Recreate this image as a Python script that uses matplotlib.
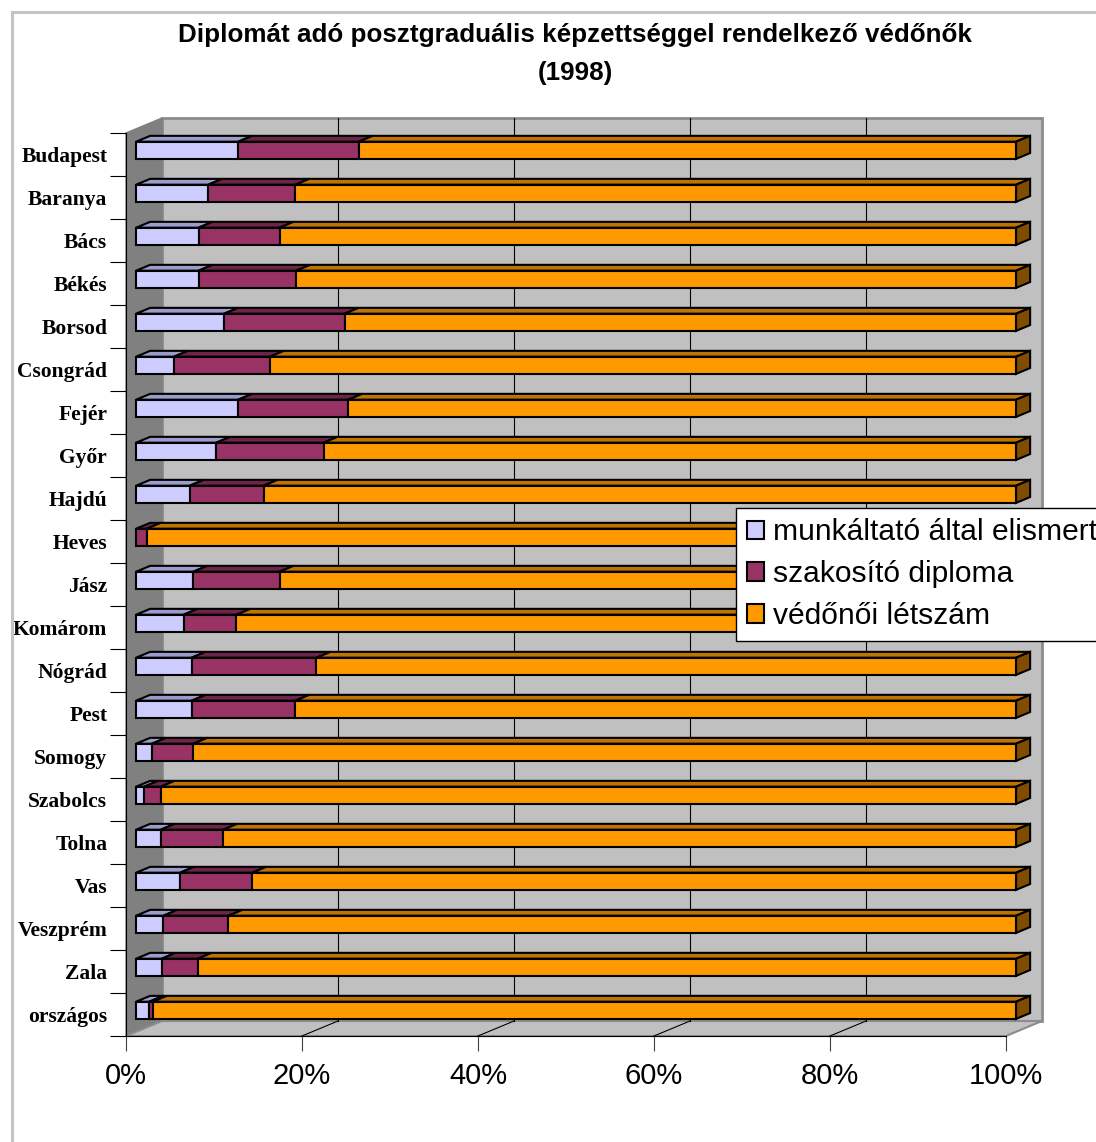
import matplotlib.pyplot as plt
from matplotlib.patches import Polygon, Rectangle, Patch
import numpy as np

# share of each group per county, percent
regions = ["Budapest", "Baranya", "Bács", "Békés", "Borsod", "Csongrád", "Fejér",
           "Győr", "Hajdú", "Heves", "Jász", "Komárom", "Nógrád", "Pest", "Somogy",
           "Szabolcs", "Tolna", "Vas", "Veszprém", "Zala", "országos"]
elismert = [11.6, 8.2, 7.1, 7.1, 10.0, 4.3, 11.6, 9.1, 6.1, 0.0, 6.5,
            5.4, 6.3, 6.3, 1.8, 0.9, 2.8, 5.0, 3.1, 2.9, 1.5]
szakosito = [13.7, 9.9, 9.2, 11.1, 13.7, 10.9, 12.5, 12.2, 8.4, 1.2, 9.8,
             6.0, 14.2, 11.8, 4.7, 1.9, 7.1, 8.2, 7.4, 4.1, 0.4]
letszam = [100 - a - b for a, b in zip(elismert, szakosito)]

series_names = ["munkáltató által elismert", "szakosító diploma", "védőnői létszám"]
xticks = [0, 20, 40, 60, 80, 100]
xtick_labels = ["0%", "20%", "40%", "60%", "80%", "100%"]

front_colors = ["#CCCCFF", "#993366", "#FF9900"]
top_colors = ["#9C9CCC", "#6E2449", "#BF7300"]
side_color = "#7F4C00"

# 3d box: full depth expressed in data units (x in percent, y in rows)
DX = 4.09
DY = 0.349
D0, D1 = 0.28, 0.67   # depth range of the bars
BAR_H = 0.4

SANS = ["Liberation Sans", "DejaVu Sans"]
SERIF = ["Liberation Serif", "DejaVu Serif"]


def proj(x, y, d):
    return (x + d * DX, y - d * DY)


def poly(ax, pts, fc, ec, lw, z):
    ax.add_patch(Polygon(pts, closed=True, facecolor=fc, edgecolor=ec,
                         linewidth=lw, clip_on=False, zorder=z, joinstyle='miter'))


W, H = 1096, 1142
fig = plt.figure(figsize=(W / 100, H / 100), dpi=100)
ax = fig.add_axes([126 / W, 106 / H, 880 / W, 903 / H])
n = len(regions)
ax.set_xlim(0, 100)
ax.set_ylim(n, 0)
ax.patch.set_visible(False)

# walls and floor
poly(ax, [proj(0, 0, 1), proj(100, 0, 1), proj(100, n, 1), proj(0, n, 1)],
     "#C0C0C0", "#8C8C8C", 2.0, 0)
poly(ax, [proj(0, 0, 0), proj(0, 0, 1), proj(0, n, 1), proj(0, n, 0)],
     "#808080", "#808080", 1.0, 0.5)
poly(ax, [proj(0, n, 0), proj(100, n, 0), proj(100, n, 1), proj(0, n, 1)],
     "#C0C0C0", "#8C8C8C", 1.5, 0.5)

# gridlines on the back wall and the floor
for x in xticks[1:-1]:
    bx, by0 = proj(x, 0, 1)
    _, by1 = proj(x, n, 1)
    ax.plot([bx, bx], [by0, by1], color="black", lw=0.8, clip_on=False, zorder=1)
    fx, fy = proj(x, n, 0)
    ax.plot([fx, bx], [fy, by1], color="black", lw=0.8, clip_on=False, zorder=1)

# stacked 3d bars
for k in range(n):
    vals = [elismert[k], szakosito[k], letszam[k]]
    y0 = k + 0.5 - BAR_H / 2
    y1 = k + 0.5 + BAR_H / 2
    left = 0.0
    for i, w in enumerate(vals):
        if w <= 0:
            continue
        a, b = left, left + w
        poly(ax, [proj(a, y0, D0), proj(b, y0, D0), proj(b, y0, D1), proj(a, y0, D1)],
             top_colors[i], "black", 1.5, 2)
        poly(ax, [proj(a, y0, D0), proj(b, y0, D0), proj(b, y1, D0), proj(a, y1, D0)],
             front_colors[i], "black", 1.5, 2)
        if i == len(vals) - 1:
            poly(ax, [proj(b, y0, D0), proj(b, y0, D1), proj(b, y1, D1), proj(b, y1, D0)],
                 side_color, "black", 1.5, 2)
        left = b

# axes, ticks and labels
for s in ["top", "right"]:
    ax.spines[s].set_visible(False)
for s in ["left", "bottom"]:
    ax.spines[s].set_color("black")
    ax.spines[s].set_linewidth(0.8)
    ax.spines[s].set_zorder(3)

ax.set_xticks(xticks, xtick_labels)
ax.tick_params(axis="x", length=10.8, width=0.8, color="#404040", pad=8, labelsize=21)
for t in ax.get_xticklabels():
    t.set_family(SANS)

ax.set_yticks(np.arange(n) + 0.5, regions)
ax.set_yticks(np.arange(n + 1), minor=True)
ax.tick_params(axis="y", which="major", length=0, pad=13.5, labelsize=15.5)
ax.tick_params(axis="y", which="minor", length=11.5, width=0.8, color="black")
for t in ax.get_yticklabels():
    t.set_family(SERIF)
    t.set_fontweight("bold")

# two-line title
fig.text(575 / W, 1 - 35 / H,
         "Diplomát adó posztgraduális képzettséggel rendelkező védőnők",
         ha="center", va="center", fontsize=18.7, fontweight="bold", family=SANS)
fig.text(575 / W, 1 - 73 / H, "(1998)",
         ha="center", va="center", fontsize=18.7, fontweight="bold", family=SANS)

handles = [Patch(facecolor=c, edgecolor="black", linewidth=1.5) for c in front_colors]
leg = fig.legend(handles, series_names, loc="upper left",
                 bbox_to_anchor=(736 / W, 1 - 508 / H), borderaxespad=0,
                 frameon=True, fancybox=False, framealpha=1, edgecolor="black",
                 prop={"family": SANS, "size": 21.6}, handlelength=0.58,
                 handleheight=0.58, handletextpad=0.3, labelspacing=0.46,
                 borderpad=0.35)
leg.get_frame().set_linewidth(1.0)
leg.set_zorder(5)

# outer chart border
fig.add_artist(Rectangle((11.5 / W, -0.1), 1.2, 1.1 - 12.5 / H, transform=fig.transFigure,
                         fill=False, edgecolor="#C4C4C4", linewidth=2.2))

fig.savefig("out.png", dpi=100)
